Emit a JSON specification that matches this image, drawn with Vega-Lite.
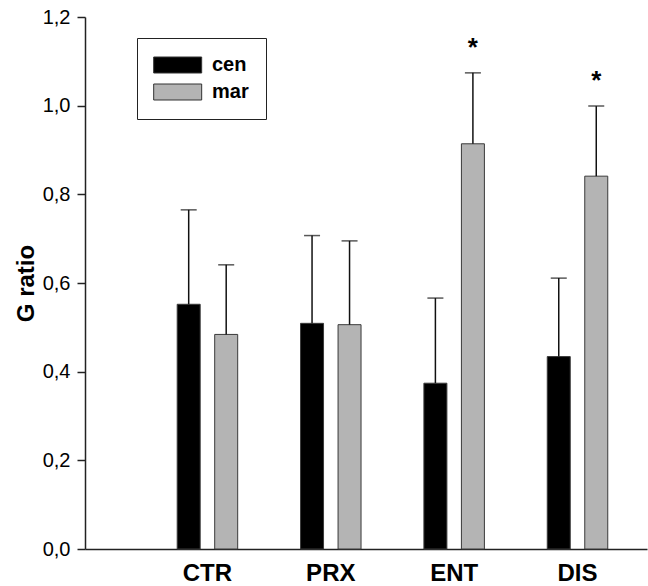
{
  "$schema": "https://vega.github.io/schema/vega-lite/v6.json",
  "width": 562,
  "height": 532,
  "autosize": "none",
  "padding": {"left": 85, "top": 17, "right": 1, "bottom": 37},
  "background": "white",
  "config": {
    "font": "Liberation Sans",
    "view": {"stroke": null},
    "axis": {"grid": false, "domainColor": "#222", "domainWidth": 1.5, "tickColor": "#222", "tickWidth": 1.5, "labelColor": "black", "titleColor": "black"}
  },
  "data": {
    "values": [
      {"group": "CTR", "series": "cen", "value": 0.552, "hi": 0.765, "sig": ""},
      {"group": "CTR", "series": "mar", "value": 0.484, "hi": 0.641, "sig": ""},
      {"group": "PRX", "series": "cen", "value": 0.509, "hi": 0.707, "sig": ""},
      {"group": "PRX", "series": "mar", "value": 0.506, "hi": 0.695, "sig": ""},
      {"group": "ENT", "series": "cen", "value": 0.374, "hi": 0.566, "sig": ""},
      {"group": "ENT", "series": "mar", "value": 0.914, "hi": 1.074, "sig": "*"},
      {"group": "DIS", "series": "cen", "value": 0.434, "hi": 0.611, "sig": ""},
      {"group": "DIS", "series": "mar", "value": 0.841, "hi": 0.999, "sig": "*"}
    ]
  },
  "encoding": {
    "x": {
      "field": "group", "type": "nominal", "sort": ["CTR", "PRX", "ENT", "DIS"],
      "scale": {"paddingInner": 0, "paddingOuter": 0.278, "align": 0.886},
      "axis": {"title": null, "labelAngle": 0, "ticks": false, "labelFontSize": 24, "labelFontWeight": "bold", "labelPadding": 12}
    },
    "xOffset": {
      "field": "series", "type": "nominal", "sort": ["cen", "mar"],
      "scale": {"paddingInner": 0.387, "paddingOuter": 0.838}
    }
  },
  "layer": [
    {
      "mark": {"type": "bar", "stroke": "#3a3a3a", "strokeWidth": 1},
      "encoding": {
        "y": {
          "field": "value", "type": "quantitative",
          "scale": {"domain": [0, 1.2], "nice": false, "zero": true},
          "axis": {
            "title": "G ratio", "values": [0, 0.2, 0.4, 0.6, 0.8, 1.0, 1.2],
            "labelExpr": "replace(format(datum.value, '.1f'), '.', ',')",
            "labelFontSize": 20, "tickSize": 8, "labelPadding": 7,
            "titleFontSize": 24, "titleFontWeight": "bold", "titleX": -47, "titleY": 266
          }
        },
        "color": {
          "field": "series", "type": "nominal", "sort": ["cen", "mar"],
          "scale": {"domain": ["cen", "mar"], "range": ["#000000", "#b4b4b4"]},
          "legend": {
            "title": null, "orient": "none", "legendX": 52, "legendY": 21,
            "strokeColor": "#222", "padding": 17,
            "symbolType": "M-1.29,-1H4.71V1H-1.29Z", "symbolSize": 256,
            "symbolStrokeColor": "#333", "symbolStrokeWidth": 1,
            "labelFontSize": 20, "labelFontWeight": "bold", "labelOffset": 38,
            "labelExpr": "datum.label + ' '",
            "rowPadding": 7
          }
        }
      }
    },
    {
      "mark": {"type": "rule", "color": "#111", "strokeWidth": 1.5},
      "encoding": {
        "y": {"field": "value", "type": "quantitative"},
        "y2": {"field": "hi"}
      }
    },
    {
      "mark": {"type": "tick", "color": "#111", "thickness": 1.5, "size": 16, "orient": "horizontal"},
      "encoding": {
        "y": {"field": "hi", "type": "quantitative"}
      }
    },
    {
      "mark": {"type": "text", "fontSize": 26, "fontWeight": "bold", "dy": -17, "baseline": "alphabetic", "color": "black"},
      "encoding": {
        "y": {"field": "hi", "type": "quantitative"},
        "text": {"field": "sig"}
      }
    }
  ]
}
